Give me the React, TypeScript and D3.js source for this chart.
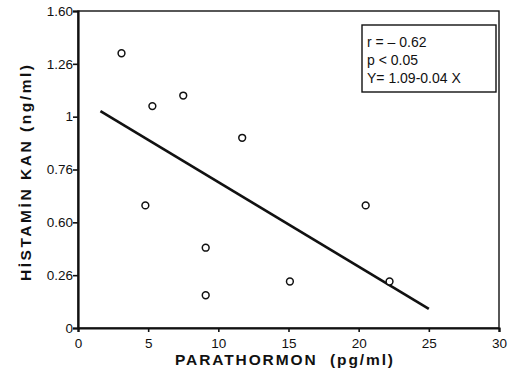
import React, { useEffect, useRef } from 'react';
import * as d3 from 'd3';

// values
const parathormon = [3.1, 5.3, 7.5, 11.7, 20.5, 9.1, 15.1, 22.2, 9.1, 4.8];
const histamin = [1.3, 1.05, 1.1, 0.9, 0.58, 0.38, 0.22, 0.22, 0.155, 0.58];

const xTicks = [0, 5, 10, 15, 20, 25, 30];
const xTickLabels = ['0', '5', '10', '15', '20', '25', '30'];
const yTicks = [0, 0.25, 0.5, 0.75, 1, 1.25, 1.5];
const yTickLabels = ['0', '0.26', '0.60', '0.76', '1', '1.26', '1.60'];

const fitRange = [1.6, 25];
const intercept = 1.09;
const slope = -0.04;

const statLines = ['r = – 0.62', 'p < 0.05', 'Y= 1.09-0.04 X'];

const ScatterChart: React.FC = () => {
  const svgRef = useRef<SVGSVGElement>(null);

  useEffect(() => {
    if (!svgRef.current) return;
    const svg = d3.select(svgRef.current);
    svg.selectAll('*').remove();

    const margin = { top: 11, right: 12, bottom: 46, left: 78 };
    const W = 511, H = 374;
    const width = W - margin.left - margin.right;
    const height = H - margin.top - margin.bottom;
    const font = "'Liberation Sans', Arial, sans-serif";

    const g = svg.append('g').attr('transform', `translate(${margin.left},${margin.top})`);

    const x = d3.scaleLinear().domain([0, 30]).range([0, width]);
    const y = d3.scaleLinear().domain([0, 1.5]).range([height, 0]);

    // frame
    g.append('rect')
      .attr('width', width).attr('height', height)
      .attr('fill', 'none').attr('stroke', '#111').attr('stroke-width', 1.4);

    const xAxis = g.append('g')
      .attr('transform', `translate(0,${height})`)
      .call(d3.axisBottom(x).tickValues(xTicks).tickSize(4).tickFormat((_, i) => xTickLabels[i]));
    const yAxis = g.append('g')
      .call(d3.axisLeft(y).tickValues(yTicks).tickSize(5).tickFormat((_, i) => yTickLabels[i]));

    [xAxis, yAxis].forEach(a => {
      a.select('.domain').attr('stroke', '#111').attr('stroke-width', 2.2);
      a.selectAll('.tick line').attr('stroke', '#111').attr('stroke-width', 1.6);
      a.selectAll('.tick text')
        .attr('fill', '#111')
        .style('font-family', font)
        .style('font-size', '13.5px');
    });
    xAxis.selectAll('.tick text').attr('dy', '0.95em');
    yAxis.selectAll('.tick text').attr('x', -5);

    // axis titles
    svg.append('text')
      .attr('x', 175)
      .attr('y', 365)
      .attr('textLength', 218)
      .attr('lengthAdjust', 'spacing')
      .attr('fill', '#111')
      .style('font-family', font)
      .style('font-size', '15.5px')
      .style('font-weight', 'bold')
      .style('white-space', 'pre')
      .text('PARATHORMON  (pg/ml)');

    svg.append('text')
      .attr('transform', 'translate(31,281) rotate(-90)')
      .attr('textLength', 216)
      .attr('lengthAdjust', 'spacing')
      .attr('fill', '#111')
      .style('font-family', font)
      .style('font-size', '15.5px')
      .style('font-weight', 'bold')
      .style('white-space', 'pre')
      .text('HİSTAMİN KAN (ng/ml)');

    // regression line
    const line = d3.line<number>()
      .x(d => x(d))
      .y(d => y(intercept + slope * d));
    g.append('path')
      .datum(fitRange)
      .attr('fill', 'none')
      .attr('stroke', '#111')
      .attr('stroke-width', 2.6)
      .attr('d', line);

    // points
    g.selectAll('.pt')
      .data(parathormon)
      .enter()
      .append('circle')
      .attr('class', 'pt')
      .attr('cx', d => x(d))
      .attr('cy', (_, i) => y(histamin[i]))
      .attr('r', 3.4)
      .attr('fill', 'white')
      .attr('stroke', '#111')
      .attr('stroke-width', 1.5);

    // stats box
    const box = svg.append('g').attr('transform', 'translate(362,25)');
    box.append('rect')
      .attr('width', 134).attr('height', 67)
      .attr('fill', 'white').attr('stroke', '#111').attr('stroke-width', 1.4);
    box.selectAll('text')
      .data(statLines)
      .enter()
      .append('text')
      .attr('x', 5)
      .attr('y', (_, i) => 22 + i * 18)
      .attr('fill', '#111')
      .style('font-family', font)
      .style('font-size', '14px')
      .style('white-space', 'pre')
      .text(d => d);
  }, []);

  return (
    <svg ref={svgRef} width={511} height={374}
      style={{ position: 'absolute', left: 0, top: 0, background: 'white' }} />
  );
};

export default function App() {
  return <ScatterChart />;
}
